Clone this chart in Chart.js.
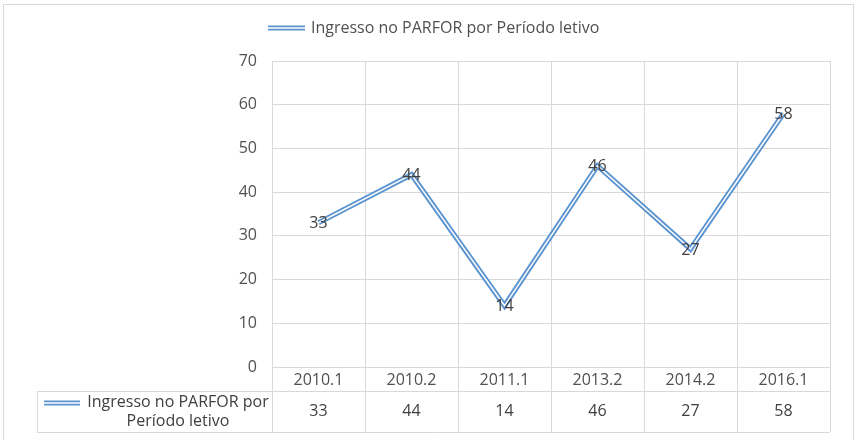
<!DOCTYPE html>
<html>
<head>
<meta charset="utf-8">
<script src="https://cdn.jsdelivr.net/npm/chart.js@4/dist/chart.umd.min.js"></script>
<style>
  html, body { margin: 0; padding: 0; background: #ffffff; }
  #c { display: block; }
</style>
</head>
<body>
<canvas id="c" width="857" height="440"></canvas>
<script>
const categories = ['2010.1', '2010.2', '2011.1', '2013.2', '2014.2', '2016.1'];
const values = [33, 44, 14, 46, 27, 58];
const seriesName = 'Ingresso no PARFOR por Período letivo';
const seriesNameLines = ['Ingresso no PARFOR por', 'Período letivo'];
const yTicks = [0, 10, 20, 30, 40, 50, 60, 70];

const FONT = '"Open Sans", Lato, sans-serif';
const FS = 16;
const BLUE = '#5b94cf';
const GRID = '#d9d9d9';
const TXT = '#505050';
const DARK = '#404040';

function drawDoubleLine(ctx, x1, x2, y) {
  ctx.save();
  ctx.strokeStyle = BLUE;
  ctx.lineWidth = 4.8;
  ctx.beginPath(); ctx.moveTo(x1, y); ctx.lineTo(x2, y); ctx.stroke();
  ctx.strokeStyle = '#ffffff';
  ctx.lineWidth = 1.4;
  ctx.beginPath(); ctx.moveTo(x1, y); ctx.lineTo(x2, y); ctx.stroke();
  ctx.restore();
}

const extras = {
  id: 'extras',
  beforeDraw(chart) {
    const ctx = chart.ctx;
    ctx.save();
    ctx.fillStyle = '#ffffff';
    ctx.fillRect(0, 0, chart.width, chart.height);
    ctx.strokeStyle = GRID;
    ctx.lineWidth = 1;
    ctx.strokeRect(3.5, 4.5, 850, 445);
    ctx.restore();
  },
  afterDraw(chart) {
    const ctx = chart.ctx;
    const xs = chart.scales.x;
    const area = chart.chartArea;
    ctx.save();
    // top legend
    drawDoubleLine(ctx, 268, 305, 28);
    ctx.fillStyle = TXT;
    ctx.font = FS + 'px ' + FONT;
    ctx.textAlign = 'left';
    ctx.textBaseline = 'middle';
    ctx.fillText(seriesName, 311, 28);

    // data table lines
    ctx.strokeStyle = GRID;
    ctx.lineWidth = 1;
    ctx.beginPath();
    ctx.moveTo(37, 391.5); ctx.lineTo(area.right, 391.5);
    ctx.moveTo(37, 432.5); ctx.lineTo(area.right, 432.5);
    ctx.moveTo(37.5, 391); ctx.lineTo(37.5, 433);
    ctx.stroke();

    // left header cell
    drawDoubleLine(ctx, 44, 80, 403);
    ctx.fillStyle = DARK;
    ctx.textAlign = 'center';
    ctx.fillText(seriesNameLines[0], 178, 402);
    ctx.fillText(seriesNameLines[1], 178, 421);

    // table values
    values.forEach((v, i) => {
      ctx.fillText(String(v), xs.getPixelForValue(i), 411);
    });

    // data labels on points
    const meta = chart.getDatasetMeta(0);
    ctx.fillStyle = DARK;
    meta.data.forEach((pt, i) => {
      ctx.fillText(String(values[i]), pt.x, pt.y + 1);
    });
    ctx.restore();
  }
};

new Chart(document.getElementById('c'), {
  type: 'line',
  data: {
    labels: categories,
    datasets: [
      { label: seriesName, data: values, borderColor: BLUE, borderWidth: 5.2, pointRadius: 0, tension: 0, fill: false, order: 2 },
      { label: '_inner', data: values, borderColor: '#ffffff', borderWidth: 1.5, pointRadius: 0, tension: 0, fill: false, order: 1 }
    ]
  },
  options: {
    responsive: false,
    animation: false,
    devicePixelRatio: 1,
    layout: { padding: { left: 0, right: 27, top: 61, bottom: 8 } },
    plugins: { legend: { display: false }, tooltip: { enabled: false } },
    scales: {
      y: {
        min: 0, max: 70,
        afterBuildTicks(s) { s.ticks = yTicks.map(v => ({ value: v })); },
        afterFit(s) { s.width = 272; },
        ticks: { color: TXT, font: { family: FONT, size: FS }, padding: 15 },
        grid: { color: GRID, drawTicks: false },
        border: { color: GRID }
      },
      x: {
        offset: true,
        afterFit(s) { s.height = 65; },
        ticks: { color: TXT, font: { family: FONT, size: FS }, padding: -61, maxRotation: 0 },
        grid: { offset: true, color: GRID, tickLength: 65, tickColor: GRID },
        border: { color: GRID }
      }
    }
  },
  plugins: [extras]
});
</script>
</body>
</html>
